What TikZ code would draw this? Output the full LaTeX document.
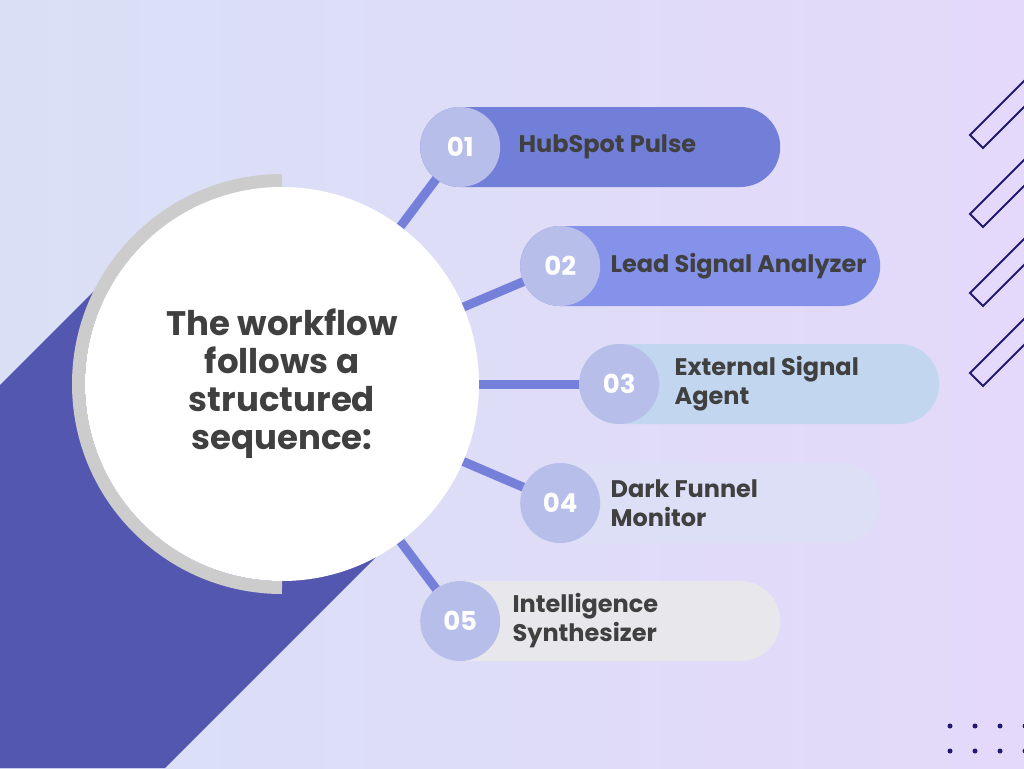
\documentclass[tikz,border=0pt]{standalone}
\usepackage{fontspec}
\setmainfont{Poppins}
\usetikzlibrary{positioning, calc}
\definecolor{bgleft}{RGB}{217, 224, 246}
\definecolor{bgright}{RGB}{228, 217, 250}
\definecolor{stripblue}{RGB}{83, 87, 176}
\definecolor{ringgray}{RGB}{204, 204, 204}
\definecolor{textdark}{RGB}{64, 64, 64}
\definecolor{pillone}{RGB}{114, 127, 216}
\definecolor{pilltwo}{RGB}{133, 146, 234}
\definecolor{pillthree}{RGB}{195, 214, 240}
\definecolor{pillfour}{RGB}{220, 223, 245}
\definecolor{pillfive}{RGB}{232, 232, 236}
\definecolor{numfill}{RGB}{183, 190, 234}
\definecolor{linkblue}{RGB}{116, 128, 218}
\definecolor{navy}{RGB}{35, 25, 110}
\pgfdeclarelayer{back}
\pgfsetlayers{back,main}

\begin{document}
\begin{tikzpicture}[x=1pt, y=-1pt,
  pill/.style={rounded corners=40pt, minimum width=360pt, minimum height=80pt, inner sep=0pt, anchor=west},
  num/.style={circle, fill=numfill, minimum size=80pt, inner sep=0pt, anchor=west, text=white, font=\fontsize{26}{26}\selectfont\bfseries},
  steptext/.style={inner sep=0pt, align=left, text=textdark, font=\fontsize{24}{29}\selectfont\bfseries},
  link/.style={linkblue, line width=9pt}]
  \useasboundingbox (0,0) rectangle (1024,768);

  % centre
  \node[circle, fill=white, minimum size=394pt, inner sep=0pt, align=center, text=textdark,
        font=\fontsize{34}{38}\selectfont\bfseries] (hub) at (282,384)
        {The workflow\\follows a\\structured\\sequence:};

  % Step 1
  \node[pill, fill=pillone] (p1) at (420,147) {};
  \node[num] (n1) at (p1.west) {01};
  \node[steptext, right=18pt of n1] (t1) {HubSpot Pulse};

  % Step 2
  \node[pill, fill=pilltwo] (p2) at (520,266) {};
  \node[num] (n2) at (p2.west) {02};
  \node[steptext, right=10pt of n2] (t2) {Lead Signal Analyzer};

  % Step 3
  \node[pill, fill=pillthree] (p3) at (579,384) {};
  \node[num] (n3) at (p3.west) {03};
  \node[steptext, right=15pt of n3] (t3) {External Signal\\Agent};

  % Step 4
  \node[pill, fill=pillfour] (p4) at (520,503) {};
  \node[num] (n4) at (p4.west) {04};
  \node[steptext, right=10pt of n4] (t4) {Dark Funnel\\Monitor};

  % Step 5
  \node[pill, fill=pillfive] (p5) at (420,621) {};
  \node[num] (n5) at (p5.west) {05};
  \node[steptext, right=12pt of n5] (t5) {Intelligence\\Synthesizer};

  \begin{pgfonlayer}{back}
    \shade[left color=bgleft, right color=bgright] (0,0) rectangle (1024,768);
    \fill[stripblue] (0,385) -- (150,235) -- (380,553) -- (165,768) -- (0,768) -- cycle;
    \draw[ringgray, line width=13pt] (hub.center) ++(0,203.5)
      arc[start angle=90, end angle=270, radius=203.5];
    \draw[link] (hub.center) -- (n1.center);
    \draw[link] (hub.center) -- (n2.center);
    \draw[link] (hub.center) -- (n3.center);
    \draw[link] (hub.center) -- (n4.center);
    \draw[link] (hub.center) -- (n5.center);
  \end{pgfonlayer}

  % corner marks
  \begin{scope}
    \clip (0,0) rectangle (1024,768);
    \draw[navy, line width=2pt] (970,135) -- (983,148) -- ++(70,-70) -- ++(-13,-13) -- cycle;
    \draw[navy, line width=2pt] (970,214) -- (983,227) -- ++(70,-70) -- ++(-13,-13) -- cycle;
    \draw[navy, line width=2pt] (970,293) -- (983,306) -- ++(70,-70) -- ++(-13,-13) -- cycle;
    \draw[navy, line width=2pt] (970,373) -- (983,386) -- ++(70,-70) -- ++(-13,-13) -- cycle;
    \fill[navy] (950,726) circle (2.5);
    \fill[navy] (975,726) circle (2.5);
    \fill[navy] (1000,726) circle (2.5);
    \fill[navy] (1025,726) circle (2.5);
    \fill[navy] (950,751) circle (2.5);
    \fill[navy] (975,751) circle (2.5);
    \fill[navy] (1000,751) circle (2.5);
    \fill[navy] (1025,751) circle (2.5);
  \end{scope}
\end{tikzpicture}
\end{document}
